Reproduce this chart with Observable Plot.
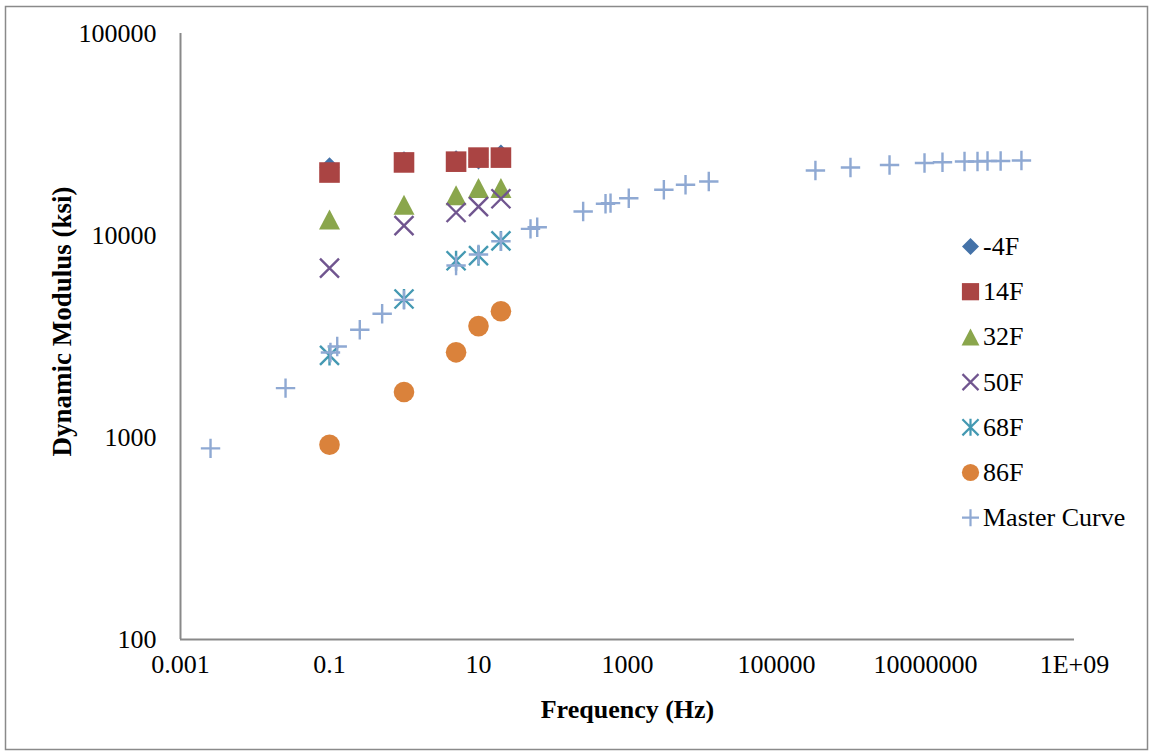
<!DOCTYPE html>
<html>
<head>
<meta charset="utf-8">
<script src="https://cdn.jsdelivr.net/npm/d3@7"></script>
<script src="https://cdn.jsdelivr.net/npm/@observablehq/plot@0.6"></script>
<style>
  html, body { margin: 0; padding: 0; background: #fff; }
  #chart { position: relative; width: 1153px; height: 755px; }
</style>
</head>
<body>
<div id="chart"></div>
<script>
// ---------- data ----------
const freqs = [0.1, 1, 5, 10, 20];
const eM4F  = [21800, 23300, 23600, 23800, 25200];
const e14F  = [20500, 23000, 23200, 24300, 24300];
const e32F  = [12000, 14200, 15800, 17200, 17200];
const e50F  = [6900, 11200, 13000, 13900, 15200];
const e68F  = [2550, 4850, 7500, 7950, 9400];
const e86F  = [920, 1680, 2640, 3560, 4220];

const masterFreq = [0.00253, 0.0257, 0.103, 0.127, 0.255, 0.509, 1, 5, 10, 20,
  49.9, 61.4, 254, 507, 592, 1040, 3076, 6010, 12330,
  333000, 984000, 3.29e6, 9.7e6, 1.69e7, 3.34e7, 4.99e7, 6.8e7, 1.02e8, 1.94e8];
const masterE = [883, 1755, 2636, 2820, 3414, 4096, 4800, 7100, 8050, 9370,
  10790, 10990, 13150, 14350, 14470, 15300, 16840, 17820, 18500,
  20990, 21720, 22330, 22860, 23060, 23250, 23250, 23390, 23390, 23500];

const seriesNames = ["-4F", "14F", "32F", "50F", "68F", "86F", "Master Curve"];
const xTicks = [1e-3, 0.1, 10, 1e3, 1e5, 1e7, 1e9];
const xTickLabels = ["0.001", "0.1", "10", "1000", "100000", "10000000", "1E+09"];
const yTicks = [100, 1000, 10000, 100000];
const yTickLabels = ["100", "1000", "10000", "100000"];

// ---------- symbols (size = pi*r^2, r = half extent) ----------
const half = size => Math.sqrt(size / Math.PI);
const symDiamond = { draw(c, size) { const s = half(size); c.moveTo(0, -s); c.lineTo(s, 0); c.lineTo(0, s); c.lineTo(-s, 0); c.closePath(); } };
const symSquare  = { draw(c, size) { const s = half(size); c.moveTo(-s, -s); c.lineTo(s, -s); c.lineTo(s, s); c.lineTo(-s, s); c.closePath(); } };
const symTri     = { draw(c, size) { const s = half(size); c.moveTo(0, -s); c.lineTo(s * 1.05, s); c.lineTo(-s * 1.05, s); c.closePath(); } };
const symTimes   = { draw(c, size) { const s = half(size); c.moveTo(-s, -s); c.lineTo(s, s); c.moveTo(s, -s); c.lineTo(-s, s); } };
const symStar    = { draw(c, size) { const s = half(size); const d = s * 0.95; c.moveTo(-d, -d); c.lineTo(d, d); c.moveTo(d, -d); c.lineTo(-d, d); c.moveTo(0, -s); c.lineTo(0, s); } };
const symCircle  = { draw(c, size) { const s = half(size); c.moveTo(s, 0); c.arc(0, 0, s, 0, 2 * Math.PI); } };
const symPlus    = { draw(c, size) { const s = half(size); c.moveTo(-s, 0); c.lineTo(s, 0); c.moveTo(0, -s); c.lineTo(0, s); } };

const styles = [
  { sym: symDiamond, color: "#4472A8", filled: true,  r: 10,   lr: 8.5 },
  { sym: symSquare,  color: "#AA4443", filled: true,  r: 10.3, lr: 8.6 },
  { sym: symTri,     color: "#8AA64C", filled: true,  r: 10,   lr: 8.5 },
  { sym: symTimes,   color: "#70558F", filled: false, r: 9.5,  lr: 8 },
  { sym: symStar,    color: "#4499B2", filled: false, r: 10,   lr: 8.5 },
  { sym: symCircle,  color: "#DA823B", filled: true,  r: 10.3, lr: 8.6 },
  { sym: symPlus,    color: "#8FA9D3", filled: false, r: 9.7,  lr: 8.5 }
];

const tempSeries = [eM4F, e14F, e32F, e50F, e68F, e86F];
const rows = tempSeries.map((vals, k) => freqs.map((f, i) => ({ f, e: vals[i], s: seriesNames[k] })));
rows.push(masterFreq.map((f, i) => ({ f, e: masterE[i], s: seriesNames[6] })));

const dotMarks = rows.map((data, k) => {
  const st = styles[k];
  return Plot.dot(data, {
    x: "f", y: "e", r: st.r, symbol: st.sym,
    fill: st.filled ? st.color : "none",
    stroke: st.filled ? "none" : st.color,
    strokeWidth: st.filled ? 0 : 2.4
  });
});

const font = "'Liberation Serif', 'Times New Roman', serif";
const plot = Plot.plot({
  width: 1153, height: 755,
  marginLeft: 180, marginRight: 79, marginTop: 33, marginBottom: 116,
  style: { fontFamily: font, fontSize: "26px", color: "#000", background: "#fff" },
  x: { type: "log", domain: [1e-3, 1e9], axis: null },
  y: { type: "log", domain: [100, 1e5], axis: null },
  marks: [
    Plot.axisX(xTicks, { tickSize: 0, tickPadding: 15, fontSize: 26, label: null,
      tickFormat: d => xTickLabels[xTicks.indexOf(d)] }),
    Plot.axisY(yTicks, { tickSize: 0, tickPadding: 24, fontSize: 26, label: null,
      tickFormat: d => yTickLabels[yTicks.indexOf(d)] }),
    Plot.ruleX([1e-3], { stroke: "#898989", strokeWidth: 2 }),
    Plot.ruleY([100], { stroke: "#898989", strokeWidth: 2 }),
    ...dotMarks,
    Plot.text(["Frequency (Hz)"], { frameAnchor: "bottom", dy: 78, fontWeight: "bold", fontSize: 26 }),
    Plot.text(["Dynamic Modulus (ksi)"], { frameAnchor: "left", textAnchor: "middle", dx: -118, dy: -15, rotate: -90, fontWeight: "bold", fontSize: 27 })
  ]
});

document.getElementById("chart").appendChild(plot);

// outer frame + legend
const svg = d3.select(plot);
svg.append("rect").attr("x", 5.5).attr("y", 6.5).attr("width", 1142).attr("height", 743)
  .attr("fill", "none").attr("stroke", "#8a8a8a").attr("stroke-width", 1.5);

const leg = svg.append("g").attr("font-family", font).attr("font-size", 26).attr("text-anchor", "start");
const legY0 = 246.5, legStep = 45.2;
seriesNames.forEach((name, k) => {
  const st = styles[k];
  const y = legY0 + k * legStep;
  leg.append("path")
    .attr("d", d3.symbol(st.sym, Math.PI * st.lr * st.lr)())
    .attr("transform", `translate(970.5,${y})`)
    .attr("fill", st.filled ? st.color : "none")
    .attr("stroke", st.filled ? "none" : st.color)
    .attr("stroke-width", st.filled ? 0 : 2.2);
  leg.append("text").attr("x", 983).attr("y", y).attr("dy", "0.33em").attr("text-anchor", "start").text(name);
});
</script>
</body>
</html>
